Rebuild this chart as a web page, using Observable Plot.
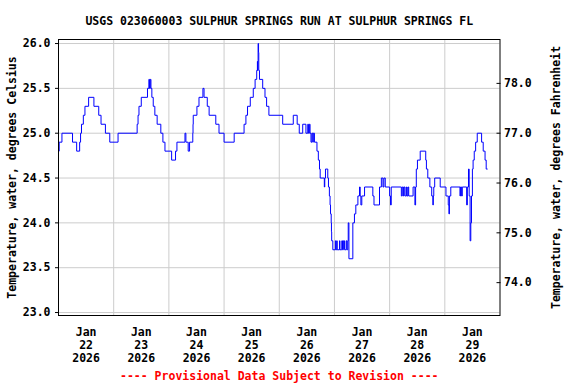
<!DOCTYPE html>
<html><head><meta charset="utf-8">
<script src="https://cdn.jsdelivr.net/npm/d3@7"></script>
<script src="https://cdn.jsdelivr.net/npm/@observablehq/plot@0.6"></script>
<style>html,body{margin:0;padding:0;background:#fff;}</style>
</head><body><div id="chart"></div>
<script>
const titleText = "USGS 023060003 SULPHUR SPRINGS RUN AT SULPHUR SPRINGS FL";
const yLabelC = "Temperature, water, degrees Celsius";
const yLabelF = "Temperature, water, degrees Fahrenheit";
const captionText = "---- Provisional Data Subject to Revision ----";

// readings: hours after 2026-01-22 00:00, value changes (step series)
const stepHours = [
  0, 0.3, 1.5, 6.1, 7.9, 9.2, 9.6, 10.0, 10.8, 11.5, 13.1, 15.4, 17.5, 18.5, 20.4, 22.3,
  25.9, 34.2, 34.6, 35.0, 36.0, 38.7, 39.3, 39.6, 39.9, 40.2, 40.6, 41.2, 41.9, 42.9, 44.5,
  45.4, 46.3, 49.2, 50.9, 51.5, 55.0, 55.4, 56.4, 57.0, 58.4, 58.5, 58.6, 60.2, 61.1, 62.8,
  63.3, 64.7, 65.5, 68.4, 69.8, 72.0, 76.4, 80.7, 81.5, 82.2, 83.4, 84.7, 85.5, 86.2, 86.5,
  86.6, 86.7, 86.8, 87.0, 87.1, 87.4, 88.8, 89.8, 90.5, 91.5, 97.5, 102.1, 103.8, 104.7,
  106.2, 107.6, 108.4, 108.7, 109.1, 109.4, 109.8, 110.2, 110.6, 110.8, 111.3, 112.4, 113.0,
  113.5, 113.8, 115.6, 115.8, 116.1, 117.1, 117.4, 117.8, 118.1, 118.3, 118.6, 118.7, 118.8,
  119.3, 120.4, 120.6, 121.0, 121.2, 122.2, 122.4, 123.2, 123.5, 123.9, 124.4, 125.1, 125.4,
  125.8, 126.0, 126.3, 128.0, 128.7, 129.3, 130.2, 130.9, 131.2, 131.5, 131.9, 133.1, 136.7,
  137.2, 139.6, 140.4, 141.1, 141.5, 142.1, 144.0, 144.4, 144.7, 149.1, 149.5, 150.0, 150.3,
  150.7, 151.3, 151.6, 152.0, 152.3, 154.2, 155.0, 155.3, 155.6, 156.1, 157.3, 159.7, 160.0,
  160.6, 161.5, 162.3, 162.8, 163.0, 163.2, 163.6, 166.0, 168.5, 169.5, 169.8, 170.0, 170.6,
  174.6, 174.8, 175.3, 175.6, 177.5, 177.8, 178.3, 178.6, 179.0, 179.3, 179.6, 180.0, 180.3,
  180.8, 181.4, 182.1, 184.0, 184.7, 185.5, 186.0, 186.5
];
const stepTempC = [
  24.8, 24.9, 25.0, 24.9, 24.8, 24.9, 25.0, 25.1, 25.2, 25.3, 25.4, 25.3, 25.2, 25.1, 25.0, 24.9,
  25.0, 25.1, 25.2, 25.3, 25.4, 25.5, 25.6, 25.5, 25.6, 25.5, 25.4, 25.3, 25.2, 25.1, 25.0,
  24.9, 24.8, 24.7, 24.8, 24.9, 25.0, 24.9, 24.8, 24.9, 25.0, 25.1, 25.2, 25.3, 25.4, 25.5,
  25.4, 25.3, 25.2, 25.1, 25.0, 24.9, 25.0, 25.1, 25.2, 25.3, 25.4, 25.5, 25.6, 25.7, 25.8,
  25.7, 25.8, 26.0, 25.9, 25.7, 25.6, 25.5, 25.4, 25.3, 25.2, 25.1, 25.2, 25.1, 25.0,
  25.1, 25.0, 25.1, 25.0, 25.1, 25.0, 24.9, 25.0, 24.9, 25.0, 24.9, 24.8, 24.7,
  24.6, 24.5, 24.4, 24.5, 24.6, 24.5, 24.4, 24.3, 24.2, 24.1, 24.0, 23.9, 23.8,
  23.7, 23.8, 23.7, 23.8, 23.7, 23.8, 23.7, 23.8, 23.7, 23.8, 23.7, 23.8, 23.7,
  23.8, 24.0, 23.6, 24.0, 24.1, 24.2, 24.3, 24.4, 24.3, 24.2, 24.3, 24.4, 24.3,
  24.2, 24.4, 24.5, 24.4, 24.5, 24.4, 24.3, 24.2, 24.4, 24.3, 24.4, 24.3, 24.4,
  24.3, 24.4, 24.3, 24.4, 24.3, 24.4, 24.2, 24.4, 24.6, 24.7, 24.8, 24.7, 24.6,
  24.5, 24.4, 24.3, 24.2, 24.3, 24.4, 24.5, 24.4, 24.3, 24.2, 24.1, 24.3, 24.4,
  24.3, 24.4, 24.3, 24.4, 24.2, 24.4, 24.6, 24.3, 23.8, 24.0, 24.3, 24.6, 24.7,
  24.8, 24.9, 25.0, 24.9, 24.8, 24.7, 24.6, 24.6
];

const celsiusTicks = [23.0, 23.5, 24.0, 24.5, 25.0, 25.5, 26.0];
const fahrenheitTicks = [74, 75, 76, 77, 78];
const dayNumbers = [22, 23, 24, 25, 26, 27, 28, 29];
const gridDays = [23, 24, 25, 26, 27, 28, 29];
const yearLabel = 2026;
const monthLabel = "Jan";

const startMs = Date.UTC(2026, 0, 22);
const hourMs = 3600 * 1000;
const data = stepHours.map((h, i) => ({time: new Date(startMs + h * hourMs), temp: stepTempC[i]}));
const noonDates = dayNumbers.map(d => new Date(Date.UTC(2026, 0, d, 12)));
const midnightDates = gridDays.map(d => new Date(Date.UTC(2026, 0, d)));
const fToC = f => (f - 32) * 5 / 9;
const cToF = c => c * 9 / 5 + 32;

const gridColor = "#cccccc";
const chart = Plot.plot({
  width: 576,
  height: 384,
  marginLeft: 58,
  marginRight: 76.5,
  marginTop: 39,
  marginBottom: 69,
  style: {fontFamily: "'DejaVu Sans Mono', monospace", fontWeight: "bold", fontSize: "11.5px", background: "#fff", color: "#000"},
  x: {type: "utc", domain: [new Date(startMs), new Date(Date.UTC(2026, 0, 30))]},
  y: {domain: [22.967, 26.045]},
  marks: [
    Plot.gridY(celsiusTicks, {stroke: gridColor, strokeOpacity: 1}),
    Plot.gridX(midnightDates, {stroke: gridColor, strokeOpacity: 1}),
    Plot.line(data, {x: "time", y: "temp", curve: "step-after", stroke: "#0000ff", strokeWidth: 1}),
    Plot.frame({stroke: "#000"}),
    Plot.axisY(celsiusTicks, {anchor: "left", tickSize: 3, tickPadding: 5, tickFormat: d => d.toFixed(1), label: null}),
    Plot.axisY(fahrenheitTicks.map(fToC), {anchor: "right", tickSize: 4, insetRight: 4, tickPadding: 4, tickFormat: c => cToF(c).toFixed(1), label: null}),
    Plot.axisX(noonDates, {anchor: "bottom", tickSize: 0, tickPadding: 11, lineHeight: 1.13,
      tickFormat: d => `${monthLabel}\n${d.getUTCDate()}\n${yearLabel}`, label: null}),
    Plot.text([titleText], {frameAnchor: "top", dy: -14.3, lineAnchor: "bottom", text: d => d}),
    Plot.text([captionText], {frameAnchor: "bottom", dy: 64, lineAnchor: "bottom", text: d => d, fill: "#ff0000"}),
    Plot.text([yLabelC], {frameAnchor: "left", dx: -46, rotate: -90, lineAnchor: "middle", textAnchor: "middle", text: d => d}),
    Plot.text([yLabelF], {frameAnchor: "right", dx: 56.5, rotate: -90, lineAnchor: "middle", textAnchor: "middle", text: d => d})
  ]
});
document.getElementById("chart").appendChild(chart);
</script>
</body></html>
